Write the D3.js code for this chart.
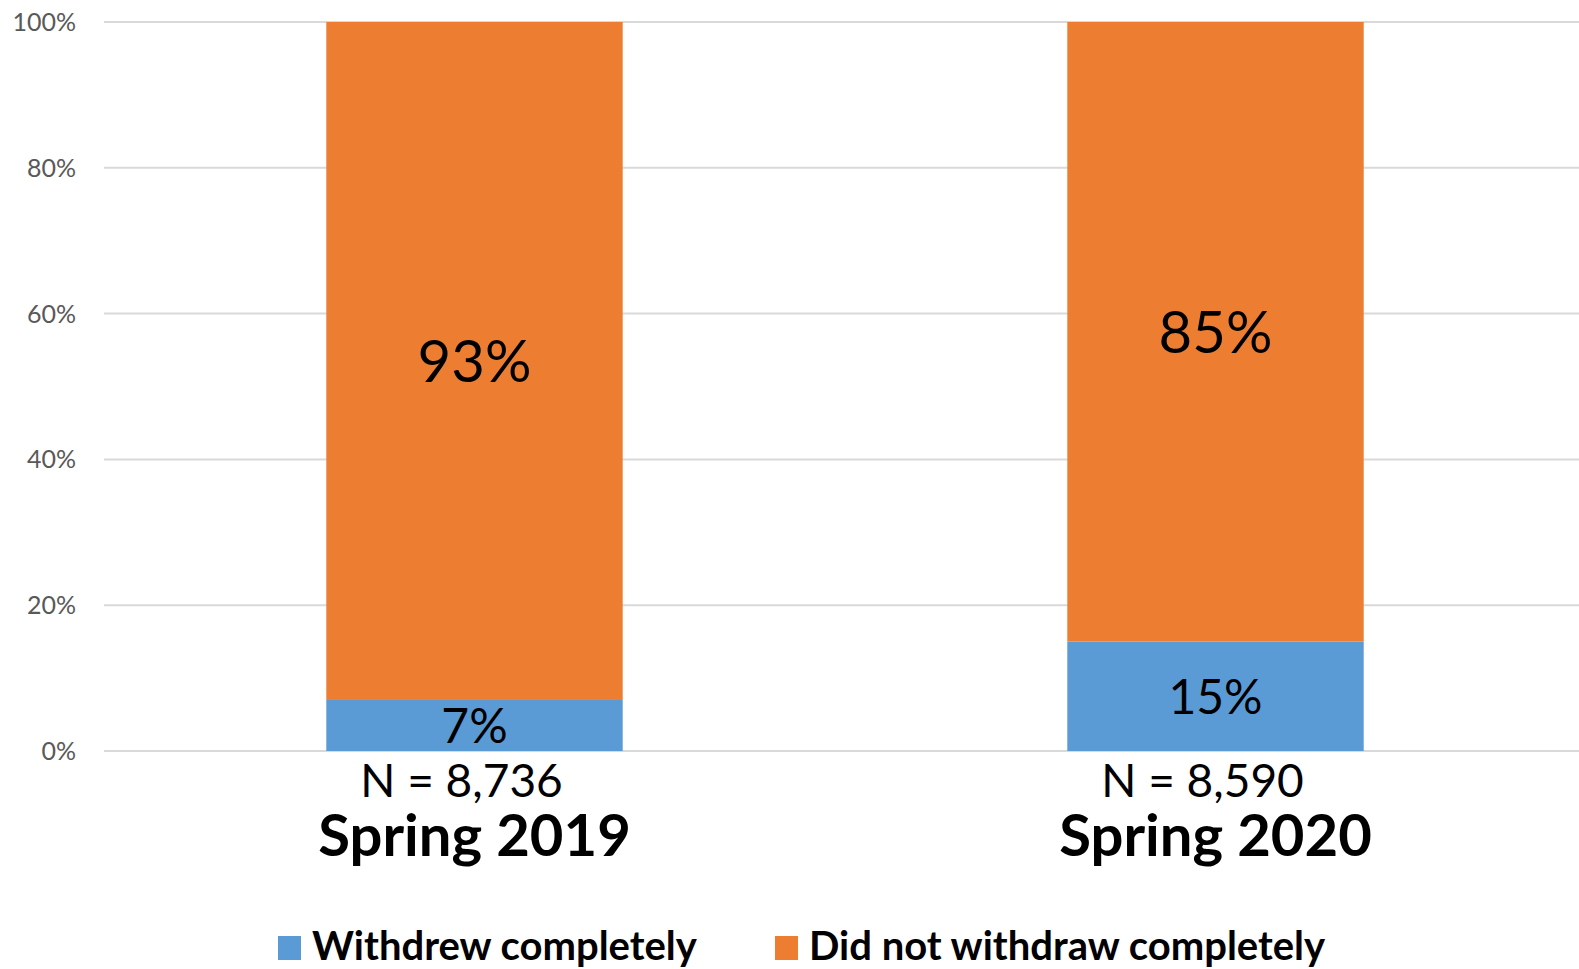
<!DOCTYPE html>
<html>
<head>
<meta charset="utf-8">
<script src="https://cdn.jsdelivr.net/npm/d3@7"></script>
<style>
  body { margin: 0; background: #fff; }
  svg { display: block; font-family: Lato, "Open Sans", sans-serif; }
</style>
</head>
<body>
<svg id="chart" width="1579" height="969"></svg>
<script>
const terms = ['Spring 2019', 'Spring 2020'];
const counts = ['N = 8,736', 'N = 8,590'];
const withdrew = [0.07, 0.15];
const stayed = [0.93, 0.85];
const seriesNames = ['Withdrew completely', 'Did not withdraw completely'];
const seriesColors = ['#5B9BD5', '#ED7D31'];
const yTicks = [0, 0.2, 0.4, 0.6, 0.8, 1];

const svg = d3.select('#chart');

const x = d3.scaleBand()
  .domain(terms)
  .range([104, 1586])
  .paddingInner(0.6)
  .paddingOuter(0.3);

const y = d3.scaleLinear()
  .domain([0, 1])
  .range([751, 22]);

// gridlines
svg.append('g')
  .selectAll('line')
  .data(yTicks)
  .join('line')
  .attr('x1', 104)
  .attr('x2', 1579)
  .attr('y1', d => y(d))
  .attr('y2', d => y(d))
  .attr('stroke', '#d9d9d9')
  .attr('stroke-width', 2);

// y tick labels
svg.append('g')
  .selectAll('text')
  .data(yTicks)
  .join('text')
  .attr('x', 76)
  .attr('y', d => y(d))
  .attr('dy', '0.36em')
  .attr('text-anchor', 'end')
  .style('font-size', '25px')
  .attr('fill', '#595959')
  .text(d => d3.format('.0%')(d));

// stacked bars
const rows = terms.map((t, i) => ({ term: t, parts: [withdrew[i], stayed[i]] }));
const bars = svg.append('g')
  .selectAll('g')
  .data(rows)
  .join('g');

bars.each(function(d) {
  const g = d3.select(this);
  let base = 0;
  d.parts.forEach((v, k) => {
    const y0 = base;
    const y1 = base + v;
    base = y1;
    g.append('rect')
      .attr('x', x(d.term))
      .attr('width', x.bandwidth())
      .attr('y', y(y1))
      .attr('height', y(y0) - y(y1))
      .attr('fill', seriesColors[k]);
    g.append('text')
      .attr('x', x(d.term) + x.bandwidth() / 2)
      .attr('y', (y(y0) + y(y1)) / 2)
      .attr('dy', '0.36em')
      .attr('text-anchor', 'middle')
      .style('font-size', k === 0 ? '48px' : '58px')
      .attr('fill', '#000')
      .text(d3.format('.0%')(v));
  });
});

// category labels
const cats = svg.append('g')
  .selectAll('g')
  .data(terms)
  .join('g')
  .attr('transform', d => `translate(${x(d) + x.bandwidth() / 2},0)`);

cats.append('text')
  .attr('x', -13)
  .attr('y', 797)
  .attr('text-anchor', 'middle')
  .style('font-size', '46px')
  .attr('fill', '#000')
  .text((d, i) => counts[i]);

cats.append('text')
  .attr('y', 856)
  .attr('text-anchor', 'middle')
  .style('font-size', '58px')
  .style('font-weight', 700)
  .attr('fill', '#000')
  .text(d => d);

// legend
const legendX = [278, 775];
const legend = svg.append('g')
  .selectAll('g')
  .data(seriesNames)
  .join('g')
  .attr('transform', (d, i) => `translate(${legendX[i]},936)`);

legend.append('rect')
  .attr('width', 23)
  .attr('height', 24)
  .attr('fill', (d, i) => seriesColors[i]);

legend.append('text')
  .attr('x', 34)
  .attr('y', 24)
  .style('font-size', '40px')
  .style('font-weight', 700)
  .attr('fill', '#000')
  .text(d => d);
</script>
</body>
</html>
